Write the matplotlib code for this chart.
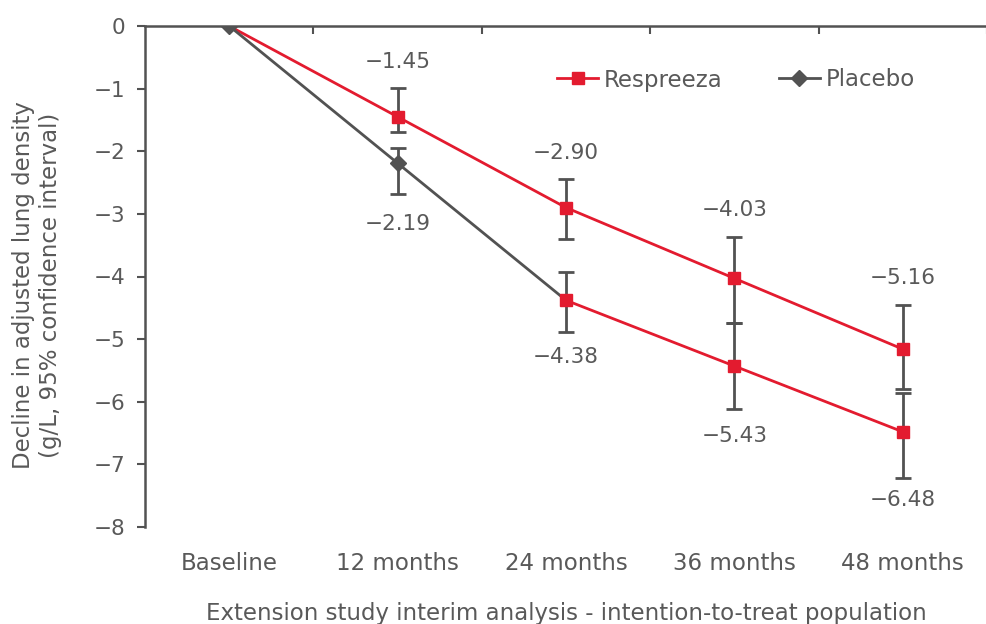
import numpy as np
import matplotlib.pyplot as plt
from matplotlib.ticker import FixedLocator

plt.rcParams['font.family'] = ['DejaVu Sans']

# data
categories = ['Baseline', '12 months', '24 months', '36 months', '48 months']
respreeza = [0, -1.45, -2.90, -4.03, -5.16]
resp_lo = [None, -1.69, -3.40, -4.75, -5.80]
resp_hi = [None, -0.99, -2.44, -3.37, -4.46]

placebo = [0, -2.19, -4.38]
plac_lo = [None, -2.68, None]
plac_hi = [None, -1.95, None]

# placebo patients switched to Respreeza in the extension
delayed = [-4.38, -5.43, -6.48]
del_lo = [-4.89, -6.12, -7.21]
del_hi = [-3.93, -4.75, -5.86]

red = '#e31b2f'
dark = '#525252'
txt = '#595959'
fs = 16.5
fn = 15.5

fig = plt.figure(figsize=(9.87, 6.24), dpi=100)
ax = fig.add_axes([145/987, 1 - 527/624, 1 - 145/987, 501/624])

x = np.arange(len(categories))


def errbars(xs, vals, lo, hi):
    for xi, v, l, h in zip(xs, vals, lo, hi):
        if l is None:
            continue
        ax.errorbar(xi, v, yerr=[[v - l], [h - v]], fmt='none',
                    ecolor=dark, elinewidth=2, capsize=6, capthick=2, zorder=2)


errbars(x, respreeza, resp_lo, resp_hi)
errbars(x[:3], placebo, plac_lo, plac_hi)
errbars(x[2:], delayed, del_lo, del_hi)

ax.plot(x, respreeza, color=red, lw=2, marker='s', ms=9, markevery=[1, 2, 3, 4],
        zorder=3, label='Respreeza')
ax.plot(x[:3], placebo, color=dark, lw=2, marker='D', ms=8, markevery=[0, 1],
        zorder=3, label='Placebo')
ax.plot(x[2:], delayed, color=red, lw=2, marker='s', ms=9, zorder=4)


def lab(xi, v, dy):
    ax.text(xi, v + dy, f'\u2212{abs(v):.2f}', ha='center', va='center',
            fontsize=fn, color=txt)


# value labels (above for Respreeza, below for placebo / delayed start)
for xi, v, dy in zip(x[1:], respreeza[1:], [0.87, 0.88, 1.09, 1.13]):
    lab(xi, v, dy)
lab(x[1], placebo[1], -0.97)
for xi, v, dy in zip(x[2:], delayed, [-0.9, -1.12, -1.09]):
    lab(xi, v, dy)

ax.set_xlim(-0.5, 4.5)
ax.set_ylim(-8, 0)

yt = np.arange(0, -9, -1)
ax.set_yticks(yt)
ax.set_yticklabels(['0'] + [f'\u2212{abs(v)}' for v in yt[1:]])
ax.set_xticks(x)
ax.set_xticklabels(categories)
ax.xaxis.set_minor_locator(FixedLocator(np.arange(0.5, 4.6, 1)))

ax.tick_params(axis='x', which='major', length=0, pad=18, labelsize=fs, labelcolor=txt)
ax.tick_params(axis='x', which='minor', top=True, bottom=False, direction='in',
               length=6, width=1.5, color=dark)
ax.tick_params(axis='y', length=6, width=1.5, color=dark, pad=8, labelsize=fn,
               labelcolor=txt)

for s in ['bottom', 'right']:
    ax.spines[s].set_visible(False)
for s in ['left', 'top']:
    ax.spines[s].set_color(dark)
    ax.spines[s].set_linewidth(1.8)
    ax.spines[s].set_zorder(1)

ax.set_xlabel('Extension study interim analysis - intention-to-treat population',
              fontsize=fs, color=txt)
ax.xaxis.set_label_coords(0.5, -0.150)
ax.set_ylabel('Decline in adjusted lung density\n(g/L, 95% confidence interval)',
              fontsize=fs, color=txt)
ax.yaxis.set_label_coords(-0.099, 0.483)

leg = ax.legend(loc='center left', bbox_to_anchor=(557/987, 1 - 80/624),
                bbox_transform=fig.transFigure, ncol=2, frameon=False,
                fontsize=fs, handlelength=1.8, handletextpad=0.25, columnspacing=2.45,
                borderpad=0, borderaxespad=0, labelcolor=txt)

fig.savefig('out.png', dpi=100)
